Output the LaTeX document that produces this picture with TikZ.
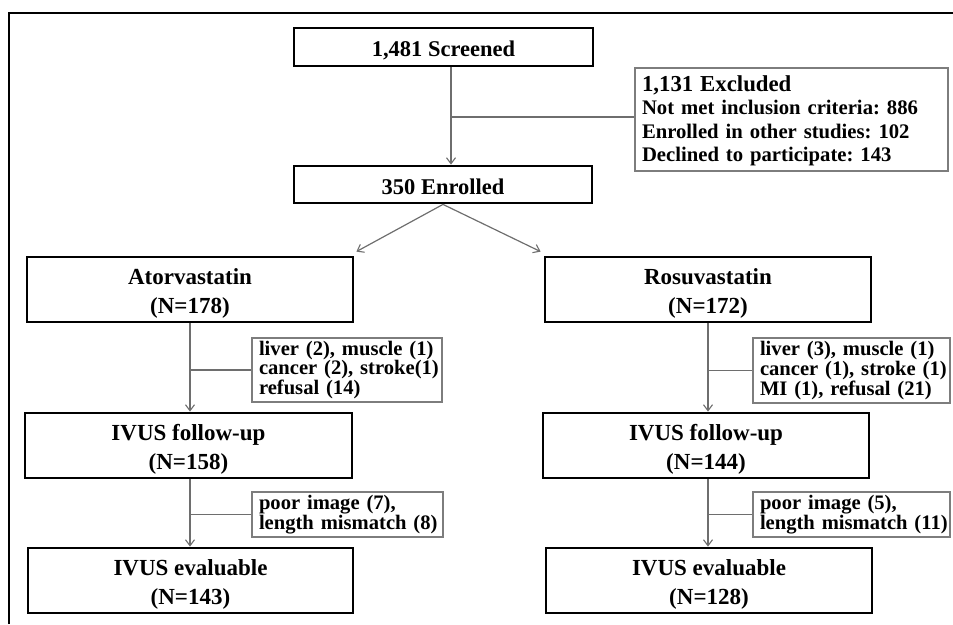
\documentclass[tikz,border=0pt]{standalone}
\usepackage{fontspec}
\setmainfont{Liberation Serif}
\usetikzlibrary{arrows.meta}
\definecolor{conngray}{RGB}{110,110,110}
\definecolor{boxgray}{RGB}{125,125,125}
\newcommand{\upstrut}[1]{\rule{0pt}{#1}}
\tikzset{
  mainbox/.style={draw=black, line width=2.8pt, fill=white, inner sep=0pt, align=center,
    font=\bfseries\fontsize{23}{28.5}\selectfont},
  topbox/.style={draw=black, line width=2.8pt, fill=white, inner sep=0pt, align=center,
    font=\bfseries\fontsize{22.5}{27}\selectfont},
  sidebox/.style={draw=boxgray, line width=1.4pt, fill=white, inner xsep=7pt, inner ysep=0pt, align=left,
    font=\bfseries\fontsize{20.6}{18}\selectfont},
  conn/.style={draw=conngray, line width=1.2pt},
  arr/.style={conn, -{Straight Barb[length=6pt,width=9pt,line width=1.1pt]}},
}
\begin{document}
\begin{tikzpicture}[x=1pt,y=-1pt]
\useasboundingbox (0,0) rectangle (953,624);
% outer frame (left and top only)
\draw[line width=2.5pt, black] (9,624) -- (9,13) -- (953,13);

% top part
\node[topbox, minimum width=299pt, minimum height=38pt] (scr) at (443.5,47) {\upstrut{23pt}1,481 Screened};
\node[topbox, minimum width=298pt, minimum height=37pt] (enr) at (443,184.5) {\upstrut{19.5pt}350 Enrolled};
\node[sidebox, text width=299pt, minimum height=103pt, font=\bfseries\fontsize{20.7}{23.5}\selectfont] (exc) at (791.5,119.5)
  {\mbox{\fontsize{22.8}{23.5}\selectfont\upstrut{18pt}1,131 Excluded}\\
   \mbox{Not met inclusion criteria:\ 886}\\
   \mbox{Enrolled in other studies:\ 102}\\
   \mbox{Declined to participate:\ 143}};
\coordinate (jt) at (451,117);
\draw[arr] (scr.south -| jt) -- (enr.north -| jt);
\draw[conn] (jt) -- (exc.west |- jt);

% arms
\node[mainbox, minimum width=326pt, minimum height=65pt] (ator) at (190,289.5) {\upstrut{24pt}Atorvastatin\\(N=178)};
\node[mainbox, minimum width=326pt, minimum height=65pt] (rosu) at (708,289.5) {\upstrut{24pt}Rosuvastatin\\(N=172)};
\draw[arr] (enr.south) -- ([shift={(2,-4)}]ator.north east);
\draw[arr] (enr.south) -- ([shift={(-3,-4)}]rosu.north west);

% side boxes 1
\node[sidebox, text width=176pt, minimum height=64pt] (sa1) at (347,370)
  {\mbox{liver (2), muscle (1)}\\\mbox{cancer (2), stroke(1)}\\\mbox{refusal (14)}};
\node[sidebox, text width=183pt, minimum height=65pt] (sr1) at (851.5,370.5)
  {\mbox{liver (3), muscle (1)}\\\mbox{cancer (1), stroke (1)}\\\mbox{MI (1), refusal (21)}};

% follow-up
\node[mainbox, minimum width=327pt, minimum height=65pt] (fua) at (188.5,445.5) {\upstrut{24pt}IVUS follow-up\\(N=158)};
\node[mainbox, minimum width=326pt, minimum height=65pt] (fur) at (706,445.5) {\upstrut{24pt}IVUS follow-up\\(N=144)};
\draw[arr] (ator.south) -- (ator.south |- fua.north);
\draw[arr] (rosu.south) -- (rosu.south |- fur.north);
\draw[conn] (ator.south |- sa1.west) -- (sa1.west);
\draw[conn] (rosu.south |- sr1.west) -- (sr1.west);

% side boxes 2
\node[sidebox, text width=177pt, minimum height=45pt] (sa2) at (347.5,514.5)
  {\mbox{poor image (7),}\\\mbox{length mismatch (8)}};
\node[sidebox, text width=183pt, minimum height=45pt] (sr2) at (851.5,514.5)
  {\mbox{poor image (5),}\\\mbox{length mismatch (11)}};

% evaluable
\node[mainbox, minimum width=325pt, minimum height=65pt] (eva) at (190.5,580.5) {\upstrut{24pt}IVUS evaluable\\(N=143)};
\node[mainbox, minimum width=326pt, minimum height=65pt] (evr) at (709,580.5) {\upstrut{24pt}IVUS evaluable\\(N=128)};
\draw[arr] (fua.south -| ator.south) -- (eva.north -| ator.south);
\draw[arr] (fur.south -| rosu.south) -- (evr.north -| rosu.south);
\draw[conn] (ator.south |- sa2.west) -- (sa2.west);
\draw[conn] (rosu.south |- sr2.west) -- (sr2.west);
\end{tikzpicture}
\end{document}
